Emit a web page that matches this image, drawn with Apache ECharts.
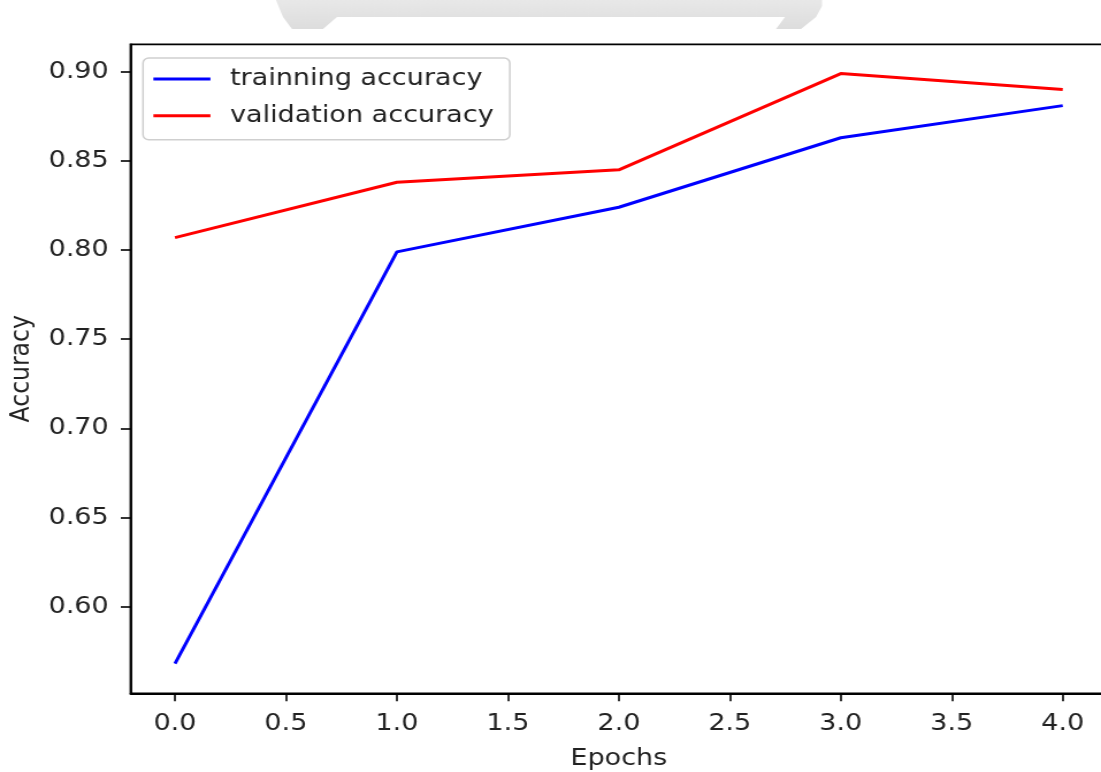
<!DOCTYPE html>
<html>
<head>
<meta charset="utf-8">
<script src="https://cdn.jsdelivr.net/npm/echarts@6/dist/echarts.min.js"></script>
<style>
  html, body { margin: 0; padding: 0; background: #fff; overflow: hidden; }
  #chart { position: absolute; left: 0; top: 0; height: 772px; transform-origin: 0 0; }
</style>
</head>
<body>
<div id="chart"></div>
<script>
// ---- data ----
const epochs = [0, 1, 2, 3, 4];
const trainAcc = [0.568, 0.799, 0.824, 0.863, 0.881];
const valAcc = [0.807, 0.838, 0.845, 0.899, 0.890];
const xTicks = [0, 0.5, 1, 1.5, 2, 2.5, 3, 3.5, 4];
const yTicks = [0.60, 0.65, 0.70, 0.75, 0.80, 0.85, 0.90];
const seriesNames = ['trainning accuracy', 'validation accuracy'];

// ---- layout (reference image is a horizontally stretched figure) ----
const W = 957;
const S = 1101 / W;
const el = document.getElementById('chart');
el.style.width = W + 'px';
el.style.transform = 'scaleX(' + S + ')';

const FS = 23.5;
const FONT = 'DejaVu Sans';
const TXT = '#222';

// decorative gray shape at the top of the reference (stretched coords)
const shapePts = [[276,0],[822,0],[822,6],[816,17],[801,29],[776,29],[785,17],[337,17],[323,29],[292,29],[283,17]]
  .map(p => [p[0] / S, p[1]]);

const chart = echarts.init(el);
chart.setOption({
  animation: false,
  backgroundColor: '#fff',
  textStyle: { fontFamily: FONT },
  graphic: [{
    type: 'polygon',
    shape: { points: shapePts },
    style: {
      fill: new echarts.graphic.LinearGradient(0, 0, 0, 1, [
        { offset: 0, color: '#e8e8e8' }, { offset: 1, color: '#dddddd' }
      ])
    },
    silent: true
  }],
  grid: {
    left: 113.5, top: 44.3, width: 848.8, height: 649,
    containLabel: false, outerBoundsMode: 'none',
    show: true, borderColor: '#000', borderWidth: 1.8, backgroundColor: 'transparent'
  },
  legend: {
    orient: 'vertical',
    left: 124.3, top: 58,
    data: seriesNames,
    icon: 'rect',
    itemWidth: 49.6, itemHeight: 3,
    itemGap: 12.8,
    padding: [9, 14, 12, 9],
    backgroundColor: 'rgba(255,255,255,0.8)',
    borderColor: '#cfcfcf', borderWidth: 1.5, borderRadius: 5,
    textStyle: { fontFamily: FONT, fontSize: FS, color: TXT, padding: [2, 0, 0, 12] }
  },
  xAxis: {
    type: 'value', min: -0.2, max: 4.2,
    name: 'Epochs', nameLocation: 'middle', nameGap: 54,
    nameTextStyle: { fontFamily: FONT, fontSize: FS, color: TXT },
    axisLine: { show: true, onZero: false, lineStyle: { color: '#000', width: 1.8 } },
    axisTick: { show: true, length: 8, lineStyle: { color: '#000', width: 1.6 }, customValues: xTicks },
    axisLabel: { fontFamily: FONT, fontSize: FS, color: TXT, margin: 19, customValues: xTicks,
      formatter: v => v.toFixed(1) },
    splitLine: { show: false }
  },
  yAxis: {
    type: 'value', min: 0.5514, max: 0.9154,
    name: 'Accuracy', nameLocation: 'middle', nameGap: 81,
    nameTextStyle: { fontFamily: FONT, fontSize: FS, color: TXT },
    axisLine: { show: true, onZero: false, lineStyle: { color: '#000', width: 1.8 } },
    axisTick: { show: true, length: 8.5, lineStyle: { color: '#000', width: 1.6 }, customValues: yTicks },
    axisLabel: { fontFamily: FONT, fontSize: FS, color: TXT, margin: 19, customValues: yTicks,
      formatter: v => v.toFixed(2) },
    splitLine: { show: false }
  },
  series: [
    {
      name: seriesNames[0], type: 'line', showSymbol: false, symbol: 'none',
      data: epochs.map((e, i) => [e, trainAcc[i]]),
      lineStyle: { color: '#0000ff', width: 3 }, itemStyle: { color: '#0000ff' }
    },
    {
      name: seriesNames[1], type: 'line', showSymbol: false, symbol: 'none',
      data: epochs.map((e, i) => [e, valAcc[i]]),
      lineStyle: { color: '#ff0000', width: 3 }, itemStyle: { color: '#ff0000' }
    }
  ]
});
</script>
</body>
</html>
